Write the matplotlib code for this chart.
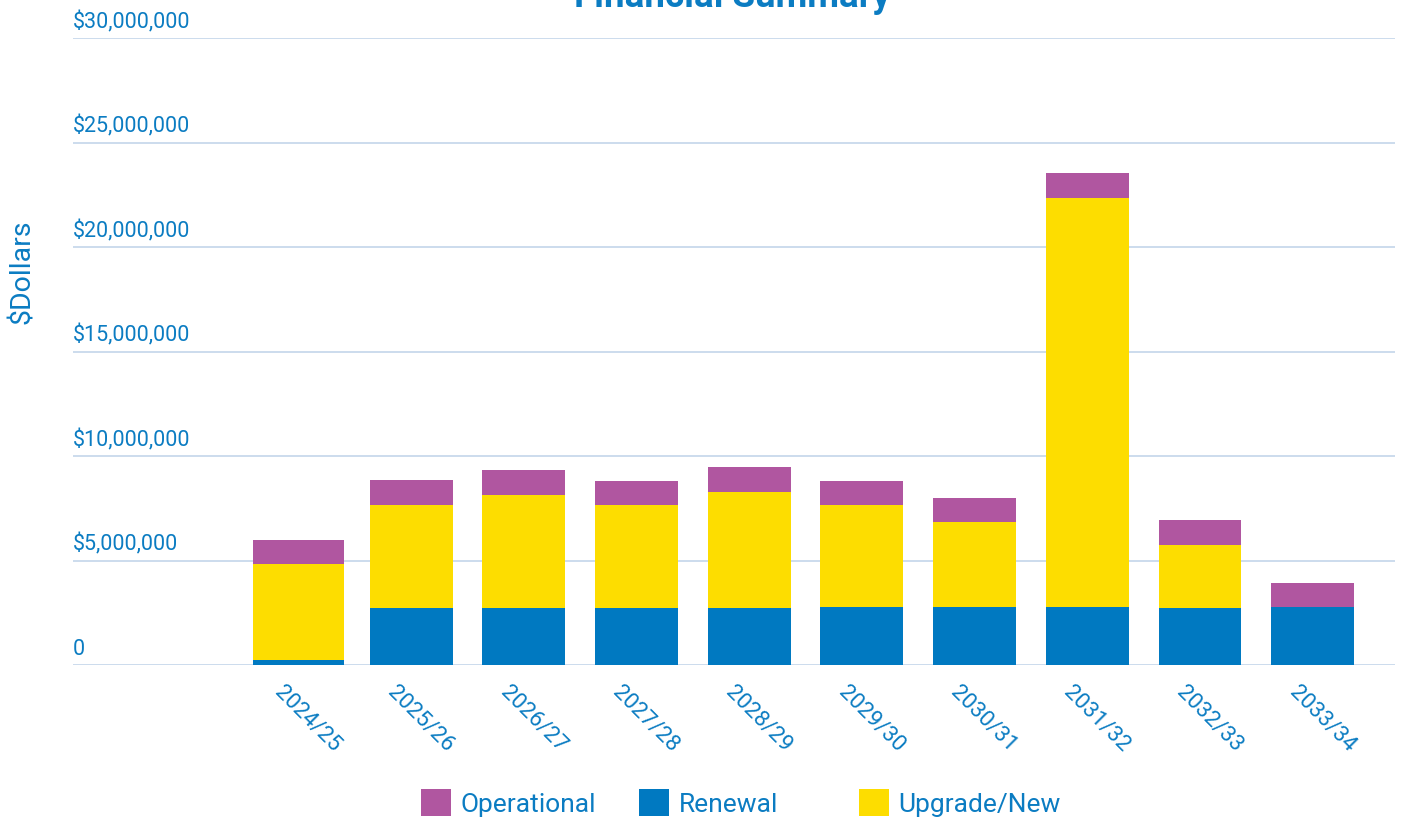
import matplotlib

matplotlib.use("Agg")
import matplotlib.pyplot as plt
import matplotlib.transforms as mtransforms
from matplotlib.ticker import FuncFormatter

plt.rcParams["font.family"] = ["Roboto", "DejaVu Sans"]

YEARS = ["2024/25", "2025/26", "2026/27", "2027/28", "2028/29",
         "2029/30", "2030/31", "2031/32", "2032/33", "2033/34"]
RENEWAL = [0.25e6, 2.73e6, 2.73e6, 2.73e6, 2.73e6, 2.78e6, 2.78e6, 2.78e6, 2.73e6, 2.78e6]
UPGRADE = [4.58e6, 4.93e6, 5.40e6, 4.93e6, 5.55e6, 4.88e6, 4.06e6, 19.56e6, 3.01e6, 0.0]
OPERATIONAL = [1.15e6, 1.19e6, 1.20e6, 1.14e6, 1.19e6, 1.14e6, 1.15e6, 1.20e6, 1.20e6, 1.14e6]
Y_TICKS = [0, 5e6, 10e6, 15e6, 20e6, 25e6, 30e6]

TEXT = "#0b7cc2"
GRID = "#c4d5ea"
C_OP = "#b056a0"
C_REN = "#0079c1"
C_UPG = "#fddd00"

fig = plt.figure(figsize=(14.02, 8.19), dpi=100)
ax = fig.add_axes([73 / 1402, 1 - 665 / 819, (1395 - 73) / 1402, (665 - 38) / 819])

x = list(range(len(YEARS)))
widths = [0.81] + [0.735] * (len(YEARS) - 1)
base_upg = RENEWAL
base_op = [r + u for r, u in zip(RENEWAL, UPGRADE)]

b_ren = ax.bar(x, RENEWAL, width=widths, color=C_REN, zorder=3)
b_upg = ax.bar(x, UPGRADE, width=widths, bottom=base_upg, color=C_UPG, zorder=3)
b_op = ax.bar(x, OPERATIONAL, width=widths, bottom=base_op, color=C_OP, zorder=3)

ax.set_xlim(-2.0, 9.73)
ax.set_ylim(0, 30e6)
ax.set_yticks(Y_TICKS)
ax.yaxis.grid(True, color=GRID, linewidth=1.2, zorder=0)
ax.tick_params(axis="y", length=0, labelleft=False)
for spine in ax.spines.values():
    spine.set_visible(False)

# y labels sit above the gridlines, left-aligned
fmt = FuncFormatter(lambda v, _: "0" if v == 0 else f"${v:,.0f}")
lift = mtransforms.ScaledTranslation(0, 5 / 100, fig.dpi_scale_trans)
trans = mtransforms.blended_transform_factory(ax.transAxes, ax.transData) + lift
for v in Y_TICKS:
    ax.text(0.0, v, fmt(v), transform=trans, ha="left", va="bottom",
            fontsize=15.5, color=TEXT)

ax.set_xticks(x)
ax.set_xticklabels(YEARS, rotation=-45, ha="left", va="top", fontsize=16,
                   color=TEXT)
ax.tick_params(axis="x", length=0, pad=12)
offset = mtransforms.ScaledTranslation(-28 / 100, 0, fig.dpi_scale_trans)
for lbl in ax.get_xticklabels():
    lbl.set_transform(lbl.get_transform() + offset)

fig.text(22 / 1402, 1 - 272 / 819, "$Dollars", rotation=90, ha="center",
         va="center", fontsize=20.5, color=TEXT)
# title is partly cut off at the top edge, as in the original
fig.text(732 / 1402, 1 - 7 / 819, "Financial Summary", ha="center",
         va="baseline", fontsize=26.5, color=TEXT, fontweight="bold")

legend_items = [(b_op, "Operational", 421), (b_ren, "Renewal", 639), (b_upg, "Upgrade/New", 859)]
for handle, label, px in legend_items:
    leg = fig.legend([handle], [label], loc="center left",
                     bbox_to_anchor=(px / 1402, 1 - 803 / 819),
                     frameon=False, fontsize=19, borderpad=0, borderaxespad=0,
                     handlelength=1.15, handleheight=1.15, handletextpad=0.35)
    for t in leg.get_texts():
        t.set_color(TEXT)

fig.savefig("out.png", dpi=100)
